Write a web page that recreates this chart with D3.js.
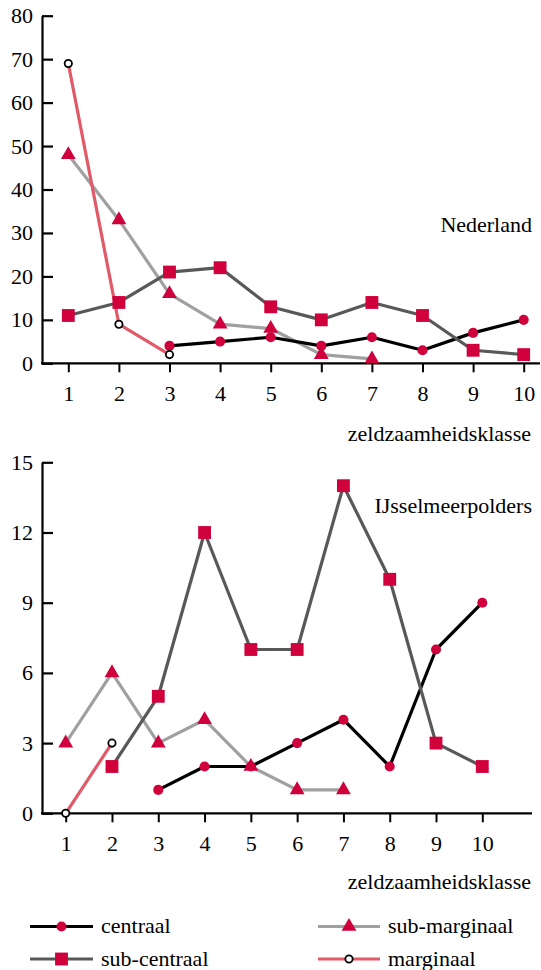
<!DOCTYPE html>
<html><head><meta charset="utf-8">
<script src="https://cdn.jsdelivr.net/npm/d3@7"></script>
</head><body style="margin:0"><svg id="c" width="541" height="970" font-family="Liberation Serif" style="display:block;font-family:'Liberation Serif',serif"></svg>
<script>
const classes = [1,2,3,4,5,6,7,8,9,10];
const seriesNames = ["centraal","sub-centraal","sub-marginaal","marginaal"];
// Nederland
const nlCentraal     = [null,null,4,5,6,4,6,3,7,10];
const nlSubCentraal  = [11,14,21,22,13,10,14,11,3,2];
const nlSubMarginaal = [48,33,16,9,8,2,1,null,null,null];
const nlMarginaal    = [69,9,2,null,null,null,null,null,null,null];
// IJsselmeerpolders
const ijCentraal     = [null,null,1,2,2,3,4,2,7,9];
const ijSubCentraal  = [null,2,5,12,7,7,14,10,3,2];
const ijSubMarginaal = [3,6,3,4,2,1,1,null,null,null];
const ijMarginaal    = [0,3,null,null,null,null,null,null,null,null];
const nlTicks = [0,10,20,30,40,50,60,70,80];
const ijTicks = [0,3,6,9,12,15];
const xTitle = "zeldzaamheidsklasse";

const RED = "#d0003c";
const styles = {
  "centraal":      {line:"#000000", sym:d3.symbolCircle, size:80, fill:RED, stroke:"none"},
  "sub-centraal":  {line:"#585858", sym:d3.symbolSquare, size:165, fill:RED, stroke:"none"},
  "sub-marginaal": {line:"#a0a0a0", sym:d3.symbolTriangle, size:95, fill:RED, stroke:"none"},
  "marginaal":     {line:"#e05a68", sym:d3.symbolCircle, size:42, fill:"#fff", stroke:"#000"}
};
const FS = 22;
const svg = d3.select("#c");
function txt(sel){
  return sel.attr("font-family","Liberation Serif").style("font-family",'"Liberation Serif"')
    .attr("font-size", FS).attr("fill","#000");
}

function panel(cfg){
  const g = svg.append("g");
  const x = d3.scaleLinear().domain([1,10]).range(cfg.xr);
  const y = d3.scaleLinear().domain([0, d3.max(cfg.ticks)]).range(cfg.yr);
  const axisX = cfg.axisX, axisEnd = cfg.axisEnd;
  const ya = g.append("g").attr("transform",`translate(${axisX},0)`)
    .call(d3.axisLeft(y).tickValues(cfg.ticks).tickSizeInner(-11).tickSizeOuter(0).tickPadding(9));
  ya.attr("font-family", "Liberation Serif").attr("font-size", FS);
  ya.select(".domain").attr("stroke-width",2.2);
  ya.selectAll(".tick line").attr("stroke-width",2.2);
  txt(ya.selectAll("text"));
  const xa = g.append("g").attr("transform",`translate(0,${y(0)})`)
    .call(d3.axisBottom(x).tickValues(classes).tickSizeInner(9).tickSizeOuter(0).tickPadding(13).tickFormat(d3.format("d")));
  xa.attr("font-family", "Liberation Serif").attr("font-size", FS);
  xa.select(".domain").remove();
  xa.selectAll(".tick line").attr("stroke-width",2);
  txt(xa.selectAll("text"));
  g.append("line").attr("x1",axisX-1).attr("x2",axisEnd).attr("y1",y(0)).attr("y2",y(0))
    .attr("stroke","#000").attr("stroke-width",2.2);
  const line = d3.line().defined(d=>d.v!=null).x(d=>x(d.c)).y(d=>y(d.v));
  const order = ["sub-marginaal","centraal","sub-centraal","marginaal"];
  order.forEach(n=>{
    const data = classes.map((c,i)=>({c, v:cfg.data[n][i]}));
    g.append("path").datum(data).attr("d",line).attr("fill","none")
      .attr("stroke",styles[n].line).attr("stroke-width",3.2).attr("stroke-linejoin","round");
  });
  order.forEach(n=>{
    const st = styles[n];
    const data = classes.map((c,i)=>({c, v:cfg.data[n][i]})).filter(d=>d.v!=null);
    g.selectAll(null).data(data).enter().append("path")
      .attr("d",d3.symbol().type(st.sym).size(st.size))
      .attr("transform",d=>`translate(${x(d.c)},${y(d.v)})`)
      .attr("fill",st.fill).attr("stroke",st.stroke).attr("stroke-width",1.8);
  });
  txt(svg.append("text").attr("x",531).attr("y",cfg.titleY).attr("text-anchor","end").text(xTitle));
  txt(svg.append("text").attr("x",532).attr("y",cfg.nameY).attr("text-anchor","end").text(cfg.name));
}

panel({xr:[68.3,523.7], yr:[363.3,15.7], ticks:nlTicks, axisX:42, axisEnd:540,
  titleY:441, nameY:232, name:"Nederland",
  data:{"centraal":nlCentraal,"sub-centraal":nlSubCentraal,"sub-marginaal":nlSubMarginaal,"marginaal":nlMarginaal}});
panel({xr:[65.7,482.3], yr:[813.3,462.3], ticks:ijTicks, axisX:42, axisEnd:532,
  titleY:889, nameY:513, name:"IJsselmeerpolders",
  data:{"centraal":ijCentraal,"sub-centraal":ijSubCentraal,"sub-marginaal":ijSubMarginaal,"marginaal":ijMarginaal}});

const legendItems = [
  {n:"centraal", x0:30, x1:93, y:926.5},
  {n:"sub-centraal", x0:30, x1:93, y:959},
  {n:"sub-marginaal", x0:318, x1:380, y:926.5},
  {n:"marginaal", x0:318, x1:380, y:959}
];
legendItems.forEach(it=>{
  const st = styles[it.n];
  svg.append("line").attr("x1",it.x0).attr("x2",it.x1).attr("y1",it.y).attr("y2",it.y)
    .attr("stroke",st.line).attr("stroke-width",3.2);
  svg.append("path").attr("d",d3.symbol().type(st.sym).size(st.size))
    .attr("transform",`translate(${(it.x0+it.x1)/2},${it.y})`)
    .attr("fill",st.fill).attr("stroke",st.stroke).attr("stroke-width",1.8);
  txt(svg.append("text").attr("x",it.x1+8).attr("y",it.y).attr("dy","0.3em").text(it.n));
});
</script></body></html>
